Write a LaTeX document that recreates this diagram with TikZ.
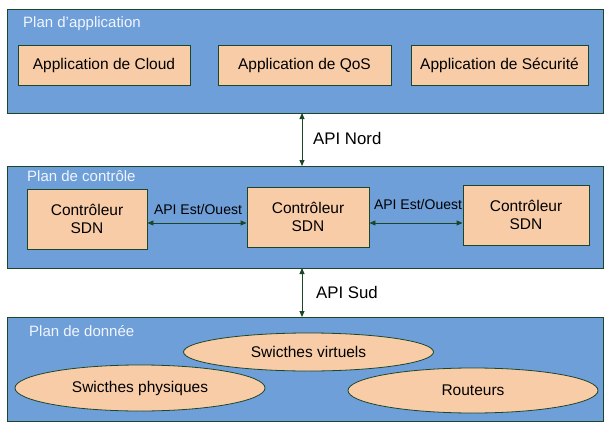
\documentclass[tikz,border=0pt]{standalone}
\usepackage{fontspec}
\setmainfont{Liberation Sans}
\usetikzlibrary{arrows.meta,shapes.geometric}
\definecolor{panelblue}{RGB}{111,159,216}
\definecolor{peach}{RGB}{249,204,168}
\definecolor{dgreen}{RGB}{28,70,40}
\definecolor{titlecol}{RGB}{240,245,255}
\begin{document}
\begin{tikzpicture}[x=1pt,y=-1pt,
  panel/.style={draw=dgreen,fill=panelblue,line width=0.9pt},
  appbox/.style={draw=dgreen,fill=peach,line width=0.9pt,font=\fontsize{15.5}{18}\selectfont,align=center},
  ovalbox/.style={ellipse,draw=dgreen,fill=peach,line width=0.8pt,inner sep=0pt,font=\fontsize{15.5}{18}\selectfont},
  ptitle/.style={anchor=base west,inner sep=0pt,text=titlecol,font=\fontsize{15}{18}\selectfont},
  apilbl/.style={anchor=west,inner sep=0pt,font=\fontsize{16.8}{20}\selectfont},
  ewlbl/.style={inner sep=0pt,font=\fontsize{14}{17}\selectfont},
  conn/.style={draw=dgreen,line width=0.9pt,{Triangle[width=5pt,length=6pt]}-{Triangle[width=5pt,length=6pt]}}
]
\useasboundingbox (0,0) rectangle (608,428);
% panels
\node[panel,minimum width=596pt,minimum height=104pt,anchor=north west,inner sep=0pt] (pA) at (7,9) {};
\node[panel,minimum width=596pt,minimum height=102pt,anchor=north west,inner sep=0pt] (pB) at (7,166) {};
\node[panel,minimum width=596pt,minimum height=104pt,anchor=north west,inner sep=0pt] (pC) at (7,317) {};
% titles
\node[ptitle] (tA) at (23,28) {Plan d’application};
\node[ptitle] (tB) at (27,181) {Plan de contrôle};
\node[ptitle] (tC) at (29,336) {Plan de donnée};
% application boxes
\node[appbox,minimum width=172pt,minimum height=40pt,inner sep=0pt] (cloud) at (104,65) {Application de Cloud};
\node[appbox,minimum width=173pt,minimum height=40pt,inner sep=0pt] (qos) at (304.5,65) {Application de QoS};
\node[appbox,minimum width=177pt,minimum height=40pt,inner sep=0pt] (sec) at (499.5,65) {Application de Sécurité};
% controllers
\node[appbox,minimum width=120pt,minimum height=60pt,inner sep=0pt] (c1) at (87,219) {Contrôleur\\SDN};
\node[appbox,minimum width=122pt,minimum height=60pt,inner sep=0pt] (c2) at (308,217) {Contrôleur\\SDN};
\node[appbox,minimum width=126pt,minimum height=60pt,inner sep=0pt] (c3) at (526,215) {Contrôleur\\SDN};
% data plane ellipses
\node[ovalbox,minimum width=250pt,minimum height=38pt] (virt) at (308.5,352) {Swicthes virtuels};
\node[ovalbox,minimum width=250pt,minimum height=46pt] (phys) at (140,388) {Swicthes physiques};
\node[ovalbox,minimum width=250pt,minimum height=45pt] (rout) at (473,390.5) {Routeurs};
% north/south API connectors
\coordinate (nA) at (302,113);
\coordinate (nB) at (302,166);
\coordinate (sB) at (302,268);
\coordinate (sC) at (302,317);
\draw[conn] (nA) -- (nB);
\draw[conn] (sB) -- (sC);
\node[apilbl] (nord) at (313,138) {API Nord};
\node[apilbl] (sud) at (316,292) {API Sud};
% east/west connectors
\draw[conn] (c1.east |- 0,223) -- (c2.west |- 0,223);
\draw[conn] (c2.east |- 0,223) -- (c3.west |- 0,223);
\node[ewlbl] (ew1) at (198,209) {API Est/Ouest};
\node[ewlbl] (ew2) at (418,204) {API Est/Ouest};
\end{tikzpicture}
\end{document}
